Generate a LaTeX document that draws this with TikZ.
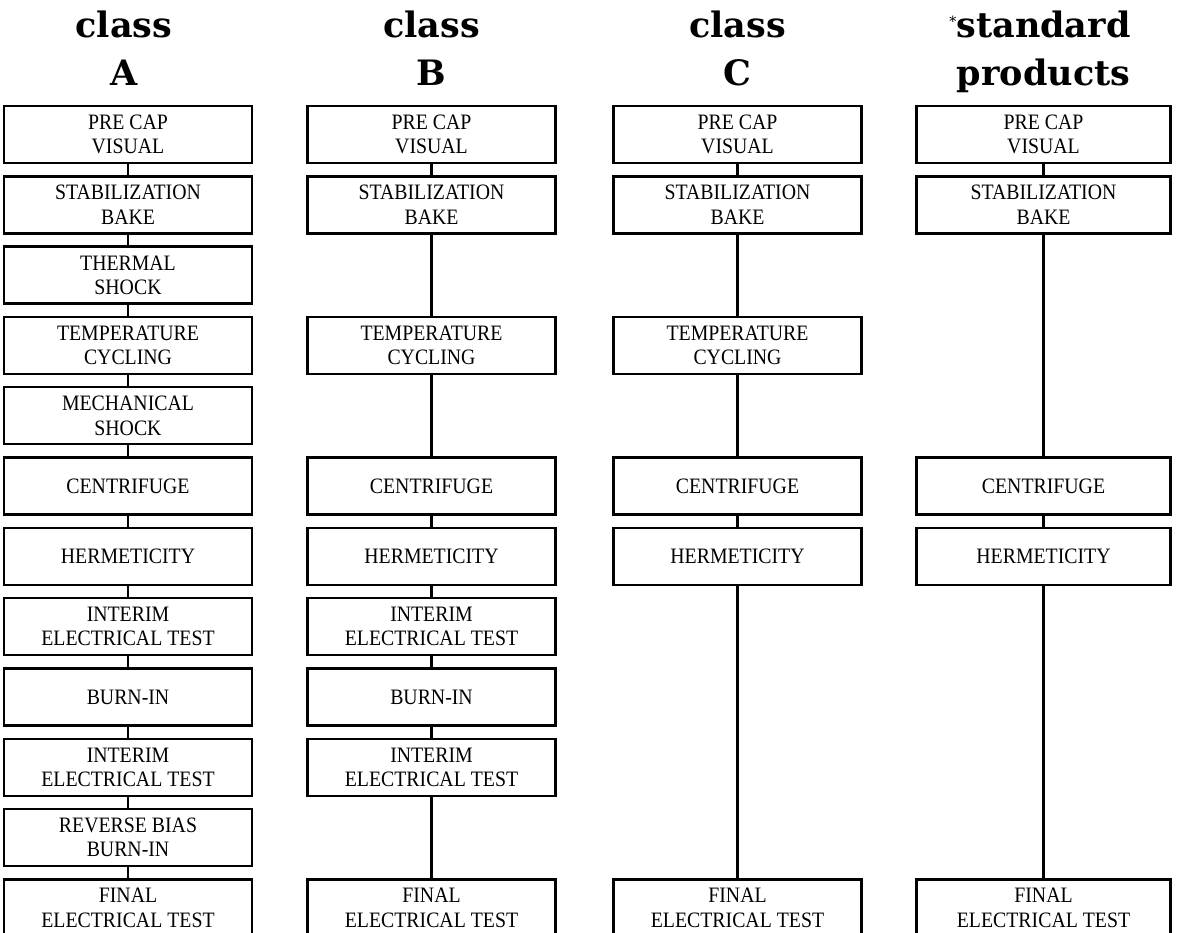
\documentclass[tikz,border=0pt]{standalone}
\usepackage{fontspec}
\setmainfont{Liberation Serif}[FakeStretch=0.9]
\newfontfamily\headfont{DejaVu Serif}

\begin{document}
\begin{tikzpicture}[
    x=1pt, y=-1pt,
    stage/.style={draw, line width=2.4pt, minimum width=248pt, minimum height=57pt,
        inner sep=0pt, align=center, font=\fontsize{22}{24.5}\selectfont},
    link/.style={line width=2.1pt},
    heading/.style={anchor=base, font=\headfont\bfseries\fontsize{35}{40}\selectfont}
]
    \path[use as bounding box, fill=white] (0,0) rectangle (1177,932);

    % Column headings
    \node[heading] (clsA) at (124,37) {class};
    \node[heading] (letA) at (124,85) {A};
    \node[heading] (clsB) at (431.5,37) {class};
    \node[heading] (letB) at (431.5,85) {B};
    \node[heading] (clsC) at (737.5,37) {class};
    \node[heading] (letC) at (737.5,85) {C};
    \node[heading] (clsS) at (1040,37) {\raisebox{11pt}{\fontsize{14}{14}\selectfont\mdseries *}standard};
    \node[heading] (letS) at (1043.5,85) {products};

    % Class A flow
    \node[stage] (a1) at (128,134.5) {PRE CAP\\VISUAL};
    \node[stage] (a2) at (128,204.8) {STABILIZATION\\BAKE};
    \node[stage] (a3) at (128,275.1) {THERMAL\\SHOCK};
    \node[stage] (a4) at (128,345.4) {TEMPERATURE\\CYCLING};
    \node[stage] (a5) at (128,415.7) {MECHANICAL\\SHOCK};
    \node[stage] (a6) at (128,486.0) {CENTRIFUGE};
    \node[stage] (a7) at (128,556.3) {HERMETICITY};
    \node[stage] (a8) at (128,626.6) {INTERIM\\ELECTRICAL TEST};
    \node[stage] (a9) at (128,696.9) {BURN-IN};
    \node[stage] (a10) at (128,767.2) {INTERIM\\ELECTRICAL TEST};
    \node[stage] (a11) at (128,837.5) {REVERSE BIAS\\BURN-IN};
    \node[stage] (a12) at (128,907.8) {FINAL\\ELECTRICAL TEST};

    % Class B flow
    \node[stage] (b1) at (431.5,134.5) {PRE CAP\\VISUAL};
    \node[stage] (b2) at (431.5,204.8) {STABILIZATION\\BAKE};
    \node[stage] (b4) at (431.5,345.4) {TEMPERATURE\\CYCLING};
    \node[stage] (b6) at (431.5,486.0) {CENTRIFUGE};
    \node[stage] (b7) at (431.5,556.3) {HERMETICITY};
    \node[stage] (b8) at (431.5,626.6) {INTERIM\\ELECTRICAL TEST};
    \node[stage] (b9) at (431.5,696.9) {BURN-IN};
    \node[stage] (b10) at (431.5,767.2) {INTERIM\\ELECTRICAL TEST};
    \node[stage] (b12) at (431.5,907.8) {FINAL\\ELECTRICAL TEST};

    % Class C flow
    \node[stage] (c1) at (737.5,134.5) {PRE CAP\\VISUAL};
    \node[stage] (c2) at (737.5,204.8) {STABILIZATION\\BAKE};
    \node[stage] (c4) at (737.5,345.4) {TEMPERATURE\\CYCLING};
    \node[stage] (c6) at (737.5,486.0) {CENTRIFUGE};
    \node[stage] (c7) at (737.5,556.3) {HERMETICITY};
    \node[stage] (c12) at (737.5,907.8) {FINAL\\ELECTRICAL TEST};

    % Standard products flow
    \node[stage, minimum width=254pt] (s1) at (1043.5,134.5) {PRE CAP\\VISUAL};
    \node[stage, minimum width=254pt] (s2) at (1043.5,204.8) {STABILIZATION\\BAKE};
    \node[stage, minimum width=254pt] (s6) at (1043.5,486.0) {CENTRIFUGE};
    \node[stage, minimum width=254pt] (s7) at (1043.5,556.3) {HERMETICITY};
    \node[stage, minimum width=254pt] (s12) at (1043.5,907.8) {FINAL\\ELECTRICAL TEST};

    % Connectors
    \foreach \u/\v in {a1/a2, a2/a3, a3/a4, a4/a5, a5/a6, a6/a7, a7/a8, a8/a9, a9/a10, a10/a11, a11/a12,
                       b1/b2, b2/b4, b4/b6, b6/b7, b7/b8, b8/b9, b9/b10, b10/b12,
                       c1/c2, c2/c4, c4/c6, c6/c7, c7/c12,
                       s1/s2, s2/s6, s6/s7, s7/s12}
        \draw[link] (\u) -- (\v);

\end{tikzpicture}
\end{document}
